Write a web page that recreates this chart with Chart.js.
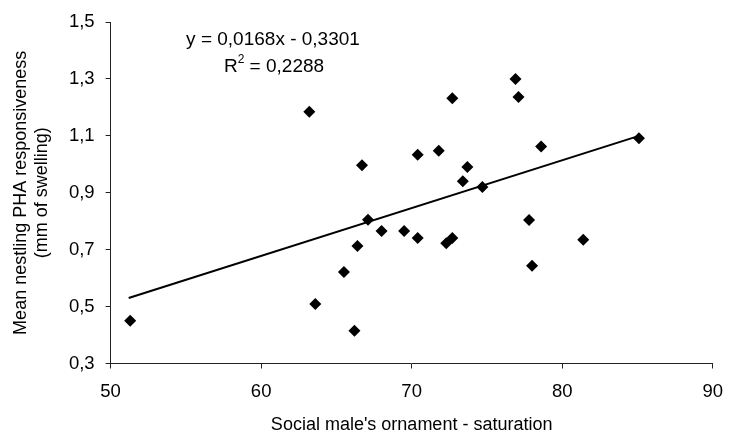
<!DOCTYPE html>
<html>
<head>
<meta charset="utf-8">
<script src="https://cdn.jsdelivr.net/npm/chart.js@4"></script>
<style>
  html, body { margin: 0; padding: 0; background: #fff; }
  #chart { display: block; }
</style>
</head>
<body>
<canvas id="chart" width="735" height="439"></canvas>
<script>
// Datos
var saturation = [51.3, 63.2, 66.7, 70.4, 71.8, 72.7, 76.9, 77.1, 73.7, 73.4, 74.7, 78.6, 85.1,
                  67.1, 68.0, 69.5, 70.4, 72.3, 72.7, 66.4, 65.5, 63.6, 66.2, 77.8, 81.4, 78.0];
var swelling   = [0.45, 1.185, 0.997, 1.034, 1.048, 1.232, 1.300, 1.237, 0.991, 0.941, 0.920, 1.063, 1.092,
                  0.805, 0.766, 0.766, 0.741, 0.723, 0.741, 0.713, 0.622, 0.509, 0.415, 0.804, 0.735, 0.644];
// Recta de regresion (extremos)
var trendX = [51.2, 85.1];
var trendY = [0.530, 1.100];
var xTicks = [50, 60, 70, 80, 90];
var yTicks = [0.3, 0.5, 0.7, 0.9, 1.1, 1.3, 1.5];
var equation = 'y = 0,0168x - 0,3301';
var rSquared = '0,2288';

var FONT = '"Liberation Sans", Arial, Helvetica, sans-serif';

function comma(v) {
    return String(v).replace('.', ',');
}

var points = saturation.map(function(x, i) { return { x: x, y: swelling[i] }; });
var trend = trendX.map(function(x, i) { return { x: x, y: trendY[i] }; });

// Texto de la ecuacion
var equationPlugin = {
    id: 'equation',
    afterDatasetsDraw: function(chart) {
        var ctx = chart.ctx;
        ctx.save();
        ctx.fillStyle = '#000';
        ctx.textBaseline = 'alphabetic';
        ctx.font = '19px ' + FONT;
        ctx.textAlign = 'center';
        ctx.fillText(equation, 273, 45);

        var rest = ' = ' + rSquared;
        var wR = ctx.measureText('R').width;
        ctx.font = '12px ' + FONT;
        var w2 = ctx.measureText('2').width;
        ctx.font = '19px ' + FONT;
        var wRest = ctx.measureText(rest).width;
        var start = 274 - (wR + w2 + wRest) / 2;
        ctx.textAlign = 'left';
        ctx.fillText('R', start, 72);
        ctx.font = '12px ' + FONT;
        ctx.fillText('2', start + wR, 63);
        ctx.font = '19px ' + FONT;
        ctx.fillText(rest, start + wR + w2, 72);
        ctx.restore();
    }
};

new Chart(document.getElementById('chart'), {
    type: 'scatter',
    data: {
        datasets: [{
            label: 'Nidos',
            data: points,
            pointStyle: 'rectRot',
            pointRadius: 6,
            backgroundColor: '#000',
            borderColor: '#000',
            borderWidth: 0,
            order: 1
        }, {
            type: 'line',
            label: 'Tendencia',
            data: trend,
            borderColor: '#000',
            borderWidth: 2,
            pointRadius: 0,
            fill: false,
            order: 2
        }]
    },
    options: {
        responsive: false,
        animation: false,
        layout: { padding: { top: 20, right: 12, left: 0, bottom: 0 } },
        plugins: {
            legend: { display: false },
            tooltip: { enabled: false }
        },
        scales: {
            x: {
                type: 'linear',
                min: 50,
                max: 90,
                afterBuildTicks: function(scale) {
                    scale.ticks = xTicks.map(function(v) { return { value: v }; });
                },
                afterFit: function(scale) { scale.height = 75.5; },
                grid: { drawOnChartArea: false, drawTicks: true, tickLength: 5, color: '#222' },
                border: { display: true, color: '#222', width: 1 },
                ticks: {
                    color: '#000',
                    padding: 12,
                    maxRotation: 0,
                    font: { family: FONT, size: 18.5 },
                    callback: function(v) { return comma(v); }
                },
                title: {
                    display: true,
                    text: "Social male's ornament - saturation",
                    color: '#000',
                    font: { family: FONT, size: 18 },
                    padding: { top: 0, bottom: 3 }
                }
            },
            y: {
                type: 'linear',
                min: 0.3,
                max: 1.5,
                afterBuildTicks: function(scale) {
                    scale.ticks = yTicks.map(function(v) { return { value: v }; });
                },
                afterFit: function(scale) { scale.width = 110.6; },
                grid: { drawOnChartArea: false, drawTicks: true, tickLength: 5, color: '#222' },
                border: { display: true, color: '#222', width: 1 },
                ticks: {
                    color: '#000',
                    padding: 11,
                    font: { family: FONT, size: 18.5 },
                    callback: function(v) { return comma(Number(v).toFixed(1)); }
                },
                title: {
                    display: true,
                    text: ['Mean nestling PHA responsiveness', '(mm of swelling)'],
                    color: '#000',
                    font: { family: FONT, size: 18, lineHeight: 1.15 },
                    padding: { top: 11, bottom: 0 }
                }
            }
        }
    },
    plugins: [equationPlugin]
});
</script>
</body>
</html>
